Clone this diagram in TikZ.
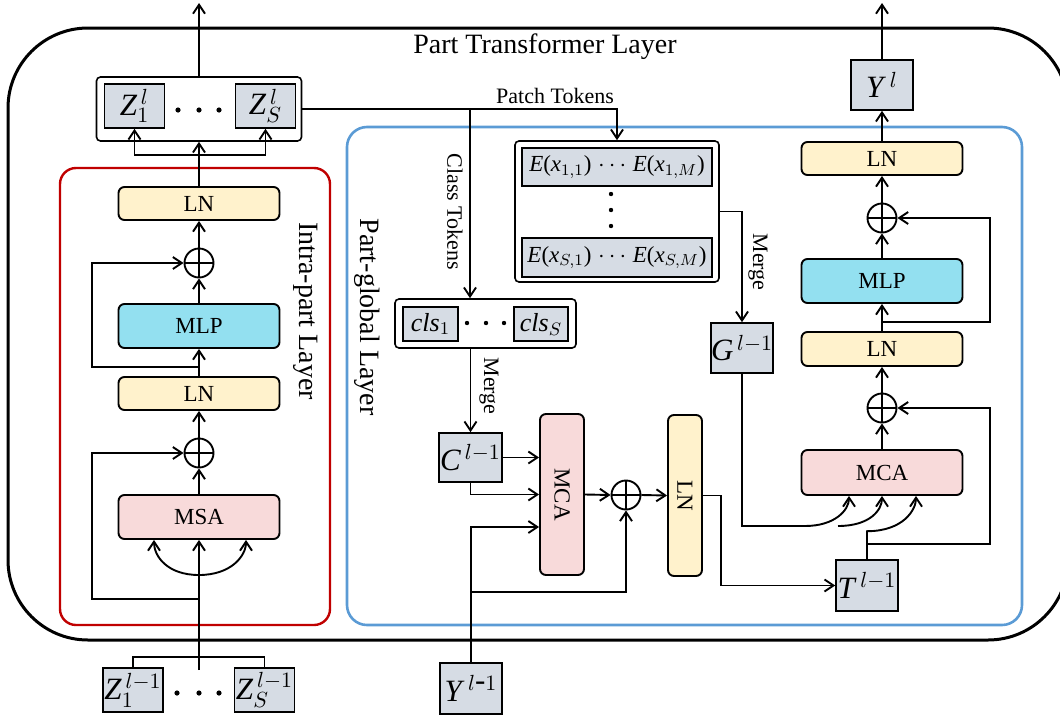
\documentclass[tikz,border=0pt]{standalone}
\usepackage{fontspec}
\setmainfont{Liberation Serif}
\usepackage{graphicx}
\usetikzlibrary{arrows.meta}

\definecolor{tokfill}{HTML}{D6DCE4}
\definecolor{lnfill}{HTML}{FFF2CC}
\definecolor{mlpfill}{HTML}{93E0F0}
\definecolor{attfill}{HTML}{F8DADA}
\definecolor{intracol}{HTML}{C00000}
\definecolor{globalcol}{HTML}{5B9BD5}

% token with super- and subscript
\newcommand{\tk}[3]{\textit{#1}$^{\,#2}_{#3}$}

\begin{document}
\begin{tikzpicture}[x=0.5pt, y=-0.5pt, >={Straight Barb[length=4.5pt,width=6pt]}, line width=0.95pt,
    lnbox/.style={draw, fill=lnfill, rounded corners=3pt, inner sep=0pt, minimum width=80.5pt, minimum height=16.5pt, font=\fontsize{11.5}{13}\selectfont},
    mlpbox/.style={lnbox, fill=mlpfill, minimum height=22pt},
    attbox/.style={lnbox, fill=attfill, minimum height=22pt},
    tokbox/.style={draw, fill=tokfill, inner sep=0pt, line width=0.8pt, minimum width=30pt, minimum height=22pt, font=\fontsize{15.5}{18}\selectfont},
    grpbox/.style={draw, fill=white, rounded corners=2pt, inner sep=0pt, line width=0.8pt},
    addop/.style={draw, circle, inner sep=0pt, minimum size=14.5pt,
        path picture={\draw (path picture bounding box.north) -- (path picture bounding box.south)
                            (path picture bounding box.west) -- (path picture bounding box.east);}},
    lbl/.style={font=\fontsize{11}{13}\selectfont}]
\useasboundingbox (0,0) rectangle (1060,718);

% layer frames
\draw[line width=1.5pt, rounded corners=40pt] (8,28) rectangle (1068,640);
\draw[intracol, line width=1.2pt, rounded corners=8pt] (60,168) rectangle (330,625);
\draw[globalcol, line width=1.3pt, rounded corners=10pt] (347,127) rectangle (1022,625);

\node[font=\fontsize{14}{16}\selectfont] (ptl) at (545,47) {Part Transformer Layer};
\node[rotate=-90, font=\fontsize{14}{16}\selectfont] (ipl) at (306,311) {Intra-part Layer};
\node[rotate=-90, font=\fontsize{14}{16}\selectfont] (pgl) at (367,317) {Part-global Layer};

% intra-part layer
\node[attbox] (msa) at (199,517) {MSA};
\node[addop] (add2) at (199,453) {};
\node[lnbox] (ln2) at (199,393.5) {LN};
\node[mlpbox] (mlp1) at (199,326) {MLP};
\node[addop] (add1) at (199,263) {};
\node[lnbox] (ln1) at (199,203.5) {LN};

\node[grpbox, minimum width=102.5pt, minimum height=32pt] (zgrp) at (199,109) {};
\node[tokbox] (z1) at (134.5,106) {\tk{Z}{l}{1}};
\node[tokbox] (zS) at (265.5,106) {\tk{Z}{l}{S}};
\foreach \x in {178,199,219} \fill (\x,110) circle (1.3pt);

\node[tokbox] (z1p) at (133,690) {\tk{Z}{l-1}{1}};
\node[tokbox] (zSp) at (264.5,690) {\tk{Z}{l-1}{S}};
\foreach \x in {177,199,219} \fill (\x,693) circle (1.3pt);

\coordinate (zout) at (199,3);
\coordinate (zsplit) at (199,155);
\coordinate (sk1) at (199,367);
\coordinate (sk2) at (199,599);
\coordinate (msplit) at (199,575);
\coordinate (zin) at (199,670);
\coordinate (zjoin) at (199,657);

\draw (z1p.north) |- (zjoin) -| (zSp.north);
\draw[->] (zin) -- (msa.south);
\draw[->] (msplit) .. controls +(-32,0) and +(0,16) .. ([xshift=-22.5pt]msa.south);
\draw[->] (msplit) .. controls +(32,0) and +(0,16) .. ([xshift=23.5pt]msa.south);
\draw[->] (msa.north) -- (add2.south);
\draw[->] (sk2) -- ++(-107,0) |- (add2.west);
\draw[->] (add2.north) -- (ln2.south);
\draw[->] (ln2.north) -- (mlp1.south);
\draw[->] (sk1) -- ++(-107,0) |- (add1.west);
\draw[->] (mlp1.north) -- (add1.south);
\draw[->] (add1.north) -- (ln1.south);
\draw[->] (ln1.north) -- (zgrp.south);
\draw[<->] (z1.south) |- (zsplit) -| (zS.south);
\draw[->] (zgrp.north) -- (zout);

% part-global layer
\node[grpbox, minimum width=102pt, minimum height=70.5pt] (egrp) at (617,211.5) {};
\node[tokbox, minimum width=95pt, minimum height=19pt, font=\fontsize{11.5}{14}\selectfont] (erow1) at (617,167)
    {\textit{E}(\textit{x}$_{1,1}$)$\;\cdots\;$\textit{E}(\textit{x}$_{1,M}$)};
\node[tokbox, minimum width=95pt, minimum height=19.5pt, font=\fontsize{11.5}{14}\selectfont] (erow2) at (617,257.5)
    {\textit{E}(\textit{x}$_{S,1}$)$\;\cdots\;$\textit{E}(\textit{x}$_{S,M}$)};
\foreach \y in {194,210,226} \fill (611,\y) circle (1.1pt);

\node[grpbox, minimum width=90.5pt, minimum height=24.5pt] (clsgrp) at (485.5,323.5) {};
\node[tokbox, minimum width=27.5pt, minimum height=17pt, font=\fontsize{13}{15}\selectfont] (cls1) at (430.5,324) {\textit{cls}$_1$};
\node[tokbox, minimum width=27pt, minimum height=17pt, font=\fontsize{13}{15}\selectfont] (clsS) at (541,324) {\textit{cls}$_S$};
\foreach \x in {467,486,504} \fill (\x,323) circle (1.1pt);

\node[tokbox, minimum width=31.5pt, minimum height=24.5pt] (C) at (470.5,457.5) {\textit{C}$^{\,l-1}$};
\node[tokbox, minimum width=31pt, minimum height=25.5pt] (Yp) at (471,688.5) {\textit{Y}$^{\,l\mbox{-}1}$};
\node[tokbox, minimum width=31pt, minimum height=25pt] (G) at (742,348) {\textit{G}$^{\,l-1}$};
\node[attbox, minimum width=22pt, minimum height=80.5pt] (mca1) at (562,494.5) {\rotatebox{-90}{MCA}};
\node[addop] (add3) at (626,495) {};
\node[lnbox, minimum width=17pt, minimum height=80.5pt] (ln3) at (685,495.5) {\rotatebox{-90}{LN}};

\node[lbl] (patchlbl) at (555,96) {Patch Tokens};
\node[lbl, rotate=-90] (clslbl) at (455,212) {Class Tokens};
\node[lbl, rotate=-90] (merge1) at (489,386) {Merge};
\node[lbl, rotate=-90] (merge2) at (758,262) {Merge};

\coordinate (ctok) at (470,109);
\coordinate (ysplit) at (471,592);

\draw[->] (zgrp.east) -| (egrp.north);
\draw[->] (ctok) -- (ctok |- clsgrp.north);
\draw[->] (C.north |- clsgrp.south) -- (C.north);
\draw[->] (egrp.east) -| (G.north);
\draw[->] (C.east) -- (C.east -| mca1.west);
\draw[->] (C.south) |- (mca1.west);
\draw[->] (Yp.north) |- ([yshift=-16.25pt]mca1.west);
\draw[->] (ysplit) -| (add3.south);
\draw[->] (mca1.east) -- (add3.west);
\draw[->] (add3.east) -- (ln3.west);

% right branch
\node[tokbox, minimum width=31pt, minimum height=25pt] (Y) at (882,85) {\textit{Y}$^{\,l}$};
\node[lnbox] (ln4) at (882,158.5) {LN};
\node[addop] (add4) at (882,218) {};
\node[mlpbox] (mlp2) at (882,281) {MLP};
\node[lnbox, minimum height=17pt] (ln5) at (882,349) {LN};
\node[addop] (add5) at (882,408) {};
\node[attbox, minimum height=22.5pt] (mca2) at (882,472.5) {MCA};
\node[tokbox, minimum width=31pt, minimum height=25.5pt] (T) at (867,585.5) {\textit{T}$^{\,l-1}$};

\coordinate (yout) at (882,3);
\coordinate (rsk) at (882,322);
\coordinate (tsplit) at (867,544);
\coordinate (gbend) at (805,526);
\coordinate (gsplit) at (838,526);

\draw[->] (ln3.east) -- ++(18,0) |- (T.west);
\draw[->] (G.south) |- (gbend) .. controls +(30,0) and +(0,14) .. ([xshift=-16.5pt]mca2.south);
\draw[->] (gsplit) .. controls +(32,0) and +(0,14) .. (mca2.south);
\draw[->] (T.north) -- ++(0,-28) .. controls +(36,0) and +(0,14) .. ([xshift=17pt]mca2.south);
\draw[->] (tsplit) -- ++(123,0) |- (add5.east);
\draw[->] (mca2.north) -- (add5.south);
\draw[->] (add5.north) -- (ln5.south);
\draw[->] (ln5.north) -- (mlp2.south);
\draw[->] (rsk) -- ++(108,0) |- (add4.east);
\draw[->] (mlp2.north) -- (add4.south);
\draw[->] (add4.north) -- (ln4.south);
\draw[->] (ln4.north) -- (Y.south);
\draw[->] (Y.north) -- (yout);
\end{tikzpicture}
\end{document}
